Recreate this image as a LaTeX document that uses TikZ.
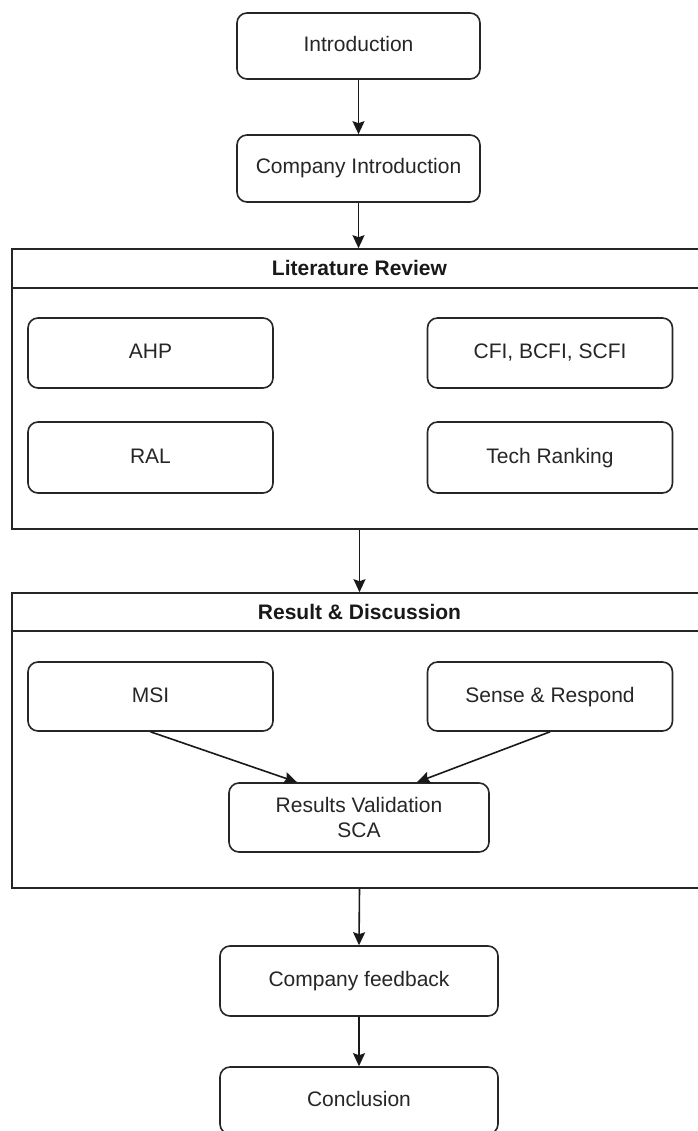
\documentclass[tikz,border=0pt]{standalone}
\usepackage{fontspec}
\setmainfont{Liberation Sans}
\usetikzlibrary{arrows.meta}
\begin{document}
\begin{tikzpicture}[x=1pt,y=-1pt,
  box/.style={draw=black!85, line width=1.6pt, rounded corners=10pt, minimum width=#1, inner sep=0pt, align=center, font=\fontsize{21}{25}\selectfont, text=black!85, text height=15pt, text depth=4pt},
  box/.default=245pt,
  container/.style={draw=black!85, line width=1.6pt, minimum width=695pt, inner sep=0pt},
  header/.style={font=\bfseries\fontsize{21}{25}\selectfont, text=black!90, inner sep=0pt},
  arr/.style={-{Stealth[length=13pt,width=12pt,inset=2pt]}, line width=1.6pt, draw=black!90}]
\useasboundingbox (0,0) rectangle (697,1131);
\fill[white] (0,0) rectangle (697,1131);

\node[box=243pt, minimum height=66pt] (intro) at (358.5,46) {Introduction};
\node[box=243pt, minimum height=67pt] (compintro) at (358.5,168.5) {Company Introduction};

\node[container, minimum height=280pt] (lr) at (359.5,389) {};
\draw[line width=1.6pt, draw=black!85] ([yshift=-40pt]lr.north west) -- ([yshift=-40pt]lr.north east);
\node[header] (lrh) at ([yshift=-20pt]lr.north) {Literature Review};
\node[box, minimum height=70pt] (ahp) at (150.5,353) {AHP};
\node[box, minimum height=70pt] (cfi) at (550,353) {CFI, BCFI, SCFI};
\node[box, minimum height=71pt] (ral) at (150.5,457.5) {RAL};
\node[box, minimum height=71pt] (tech) at (550,457.5) {Tech Ranking};

\node[container, minimum height=295pt] (rd) at (359.5,740.5) {};
\draw[line width=1.6pt, draw=black!85] ([yshift=-39pt]rd.north west) -- ([yshift=-39pt]rd.north east);
\node[header] (rdh) at ([yshift=-19.5pt]rd.north) {Result \& Discussion};
\node[box, minimum height=69pt] (msi) at (150.5,696.5) {MSI};
\node[box, minimum height=69pt] (sr) at (550,696.5) {Sense \& Respond};
\node[box=260pt, minimum height=69pt, text height=, text depth=] (val) at (359,817.5) {Results Validation\\SCA};

\node[box=278pt, minimum height=70pt] (fb) at (359,981) {Company feedback};
\node[box=278pt, minimum height=67pt] (concl) at (359,1100.5) {Conclusion};

\draw[arr] (intro.south) -- (compintro.north);
\draw[arr] (compintro.south) -- (compintro.south |- lr.north);
\draw[arr] (lr.south) -- (rd.north);
\draw[arr] (msi.south) -- ([xshift=-62pt]val.north);
\draw[arr] (sr.south) -- ([xshift=58pt]val.north);
\draw[arr] (rd.south) -- (fb.north);
\draw[arr] (fb.south) -- (concl.north);
\end{tikzpicture}
\end{document}
